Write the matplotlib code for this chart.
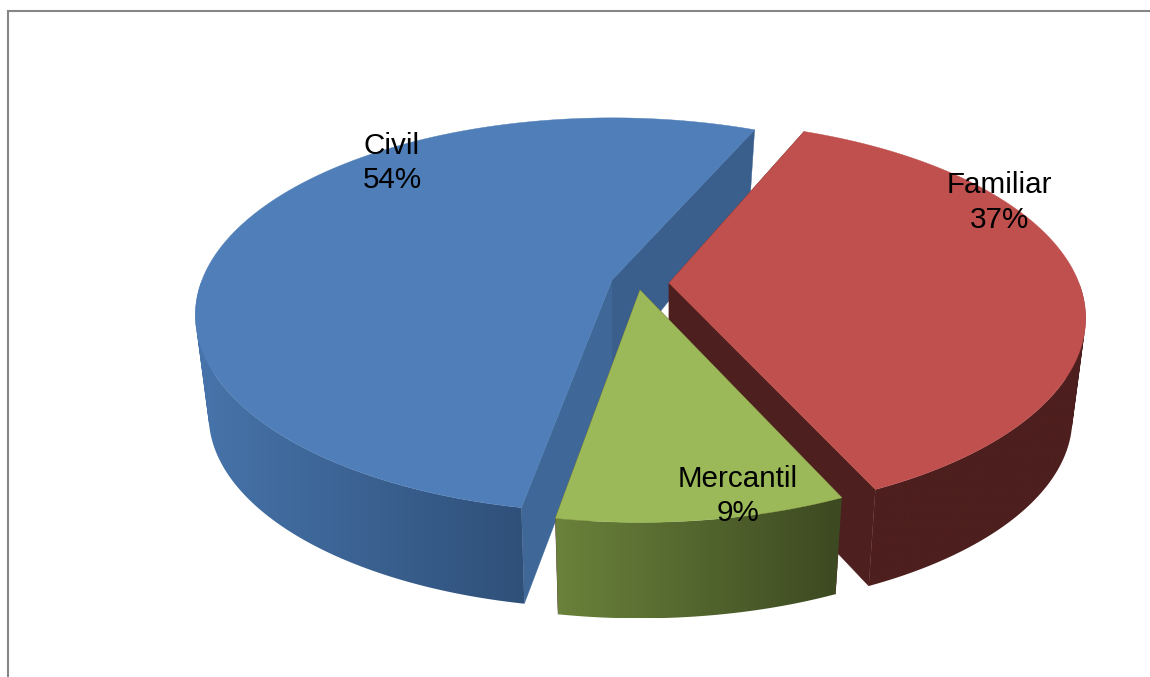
import numpy as np
import matplotlib
matplotlib.use("Agg")
import matplotlib.pyplot as plt
from matplotlib.patches import Polygon
from matplotlib.path import Path
from matplotlib.colors import LinearSegmentedColormap

categories = ["Civil", "Familiar", "Mercantil"]
values = [53.71, 36.8, 9.49]

# styling / layout (pixels)
start_angle = 190.5
angle_nudge = [0.0, -1.3, -0.7]
apexes = [(612, 280), (669, 283), (640, 290)]
top_colors = ["#4f7eb9", "#bf504e", "#9bb958"]
side_grad = [("#4774ab", "#2f5079"), ("#4d1f1e", "#4d1f1e"), ("#6a823b", "#3c4921")]
far_face = ["#3a5f8d", "#4d1f1e", "#4d1f1e"]
near_face = ["#3f6898", "#4d1f1e", "#4d1f1e"]
label_pos = [(392, 163), (999, 202.5), (738, 496)]

A, B, P, K = 410.0, 191.0, 0.178, 0.968


def project(theta):
    t = np.radians(theta)
    x, y = np.sin(t), np.cos(t)
    s = 1 + P * y
    return A * x / s, -B * y / s


def drop(dx, dy, c):
    off = np.interp(dy, [-160, 0, 50, 230], [68, 92, 100, 96])
    return c[0] + K * dx, c[1] + dy + off


def wall_path(tx, ty, bx, by):
    verts, codes = [], []
    for j in range(len(tx) - 1):
        q = np.array([(tx[j], ty[j]), (tx[j + 1], ty[j + 1]), (bx[j + 1], by[j + 1]), (bx[j], by[j])])
        x, y = q[:, 0], q[:, 1]
        area = np.sum(x * np.roll(y, -1) - np.roll(x, -1) * y)
        if area < 0:
            q = q[::-1]
        verts.extend(q.tolist() + [q[0].tolist()])
        codes.extend([Path.MOVETO, Path.LINETO, Path.LINETO, Path.LINETO, Path.CLOSEPOLY])
    return Path(np.array(verts), codes)


plt.rcParams["font.family"] = ["Liberation Sans", "DejaVu Sans"]
fig = plt.figure(figsize=(11.5, 6.77), dpi=100)
ax = fig.add_axes([0, 0, 1, 1])
ax.axis("off")

ax.plot([8, 8, 1150], [677, 10.5, 10.5], color="#868686", lw=1.5, solid_joinstyle="miter", zorder=1)

shares = np.array(values) / np.sum(values) * 360.0
edges = start_angle + np.concatenate([[0], np.cumsum(shares)])

for i, cat in enumerate(categories):
    a0 = edges[i] + angle_nudge[i]
    a1 = edges[i + 1] + angle_nudge[i]
    c = apexes[i]
    th = np.linspace(a0, a1, 300)
    dx, dy = project(th)
    tx, ty = c[0] + dx, c[1] + dy
    bx, by = drop(dx, dy, c)
    z = 2 + i * 3
    ax0, ay0 = drop(0.0, 0.0, c)

    # inner faces
    ax.add_patch(Polygon([c, (tx[-1], ty[-1]), (bx[-1], by[-1]), (ax0, ay0)],
                         closed=True, fc=far_face[i], ec=far_face[i], lw=0.3, zorder=z))
    ax.add_patch(Polygon([c, (tx[0], ty[0]), (bx[0], by[0]), (ax0, ay0)],
                         closed=True, fc=near_face[i], ec=near_face[i], lw=0.3, zorder=z))

    # outer wall: near side of the slice, shaded left to right
    vis = dy >= 0
    path = wall_path(tx[vis], ty[vis], bx[vis], by[vis])
    cm = LinearSegmentedColormap.from_list("g", side_grad[i])
    allx = np.r_[tx[vis], bx[vis]]
    ally = np.r_[ty[vis], by[vis]]
    im = ax.imshow(np.linspace(0, 1, 256)[None, :], cmap=cm, aspect="auto", interpolation="bilinear",
                   extent=(allx.min(), allx.max(), ally.max(), ally.min()), zorder=z + 0.5)
    im.set_clip_path(path, transform=ax.transData)

    # top face
    top = np.vstack([[c], np.column_stack([tx, ty])])
    ax.add_patch(Polygon(top, closed=True, fc=top_colors[i], ec=top_colors[i], lw=0.3, zorder=z + 1))

ax.set_xlim(0, 1150)
ax.set_ylim(677, 0)

for i, cat in enumerate(categories):
    ax.text(label_pos[i][0], label_pos[i][1], f"{cat}\n{round(values[i]):d}%",
            ha="center", va="center", fontsize=21.3, color="black", linespacing=1.3, zorder=20)

fig.savefig("out.png", dpi=100)
